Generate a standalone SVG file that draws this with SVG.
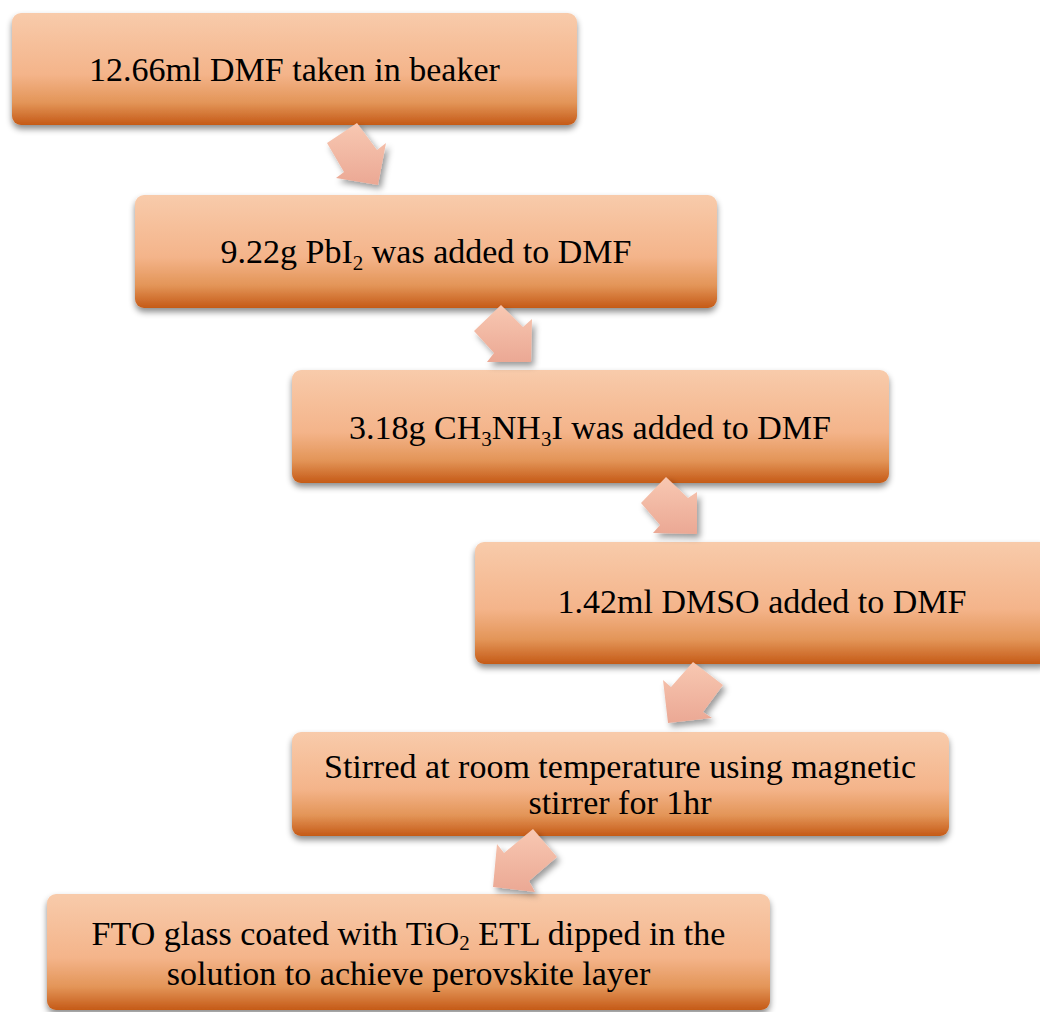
<svg xmlns="http://www.w3.org/2000/svg" width="1040" height="1012" viewBox="0 0 1040 1012">
  <defs>
    <linearGradient id="boxFill" x1="0" y1="0" x2="0" y2="1">
      <stop offset="0" stop-color="#f8cbab"/>
      <stop offset="0.55" stop-color="#f4b48a"/>
      <stop offset="0.8" stop-color="#e39558"/>
      <stop offset="1" stop-color="#c55a17"/>
    </linearGradient>
    <linearGradient id="arrowFill" x1="0" y1="0" x2="0" y2="1">
      <stop offset="0" stop-color="#f8c8b2"/>
      <stop offset="1" stop-color="#eba894"/>
    </linearGradient>
    <filter id="boxShadow" x="-5%" y="-10%" width="110%" height="130%">
      <feDropShadow dx="0" dy="4" stdDeviation="3" flood-color="#000" flood-opacity="0.45"/>
    </filter>
    <filter id="arrowShadow" x="-20%" y="-20%" width="150%" height="150%">
      <feDropShadow dx="3" dy="4" stdDeviation="3" flood-color="#000" flood-opacity="0.4"/>
    </filter>
  </defs>
  <style>
    .box { fill: url(#boxFill); filter: url(#boxShadow); }
    .arrow { fill: url(#arrowFill); filter: url(#arrowShadow); }
    .label { font-family: "Liberation Serif", "Times New Roman", serif; font-size: 34px; fill: #000; text-anchor: middle; }
    .sub { font-size: 21px; }
  </style>
  <rect width="1040" height="1012" fill="#fff"/>

  <!-- process steps -->
  <g id="step1">
    <rect class="box" x="12" y="13" width="565" height="112" rx="9"/>
    <text class="label" x="294.5" y="81">12.66ml DMF taken in beaker</text>
  </g>
  <g id="step2">
    <rect class="box" x="135" y="195" width="582" height="113" rx="9"/>
    <text class="label" x="426" y="263">9.22g PbI<tspan class="sub" dy="7">2</tspan><tspan dy="-7"> was added to DMF</tspan></text>
  </g>
  <g id="step3">
    <rect class="box" x="292" y="370" width="597" height="113" rx="9"/>
    <text class="label" x="590" y="439">3.18g CH<tspan class="sub" dy="7">3</tspan><tspan dy="-7">NH</tspan><tspan class="sub" dy="7">3</tspan><tspan dy="-7">I was added to DMF</tspan></text>
  </g>
  <g id="step4">
    <rect class="box" x="475" y="542" width="574" height="122" rx="9"/>
    <text class="label" x="762" y="613">1.42ml DMSO added to DMF</text>
  </g>
  <g id="step5">
    <rect class="box" x="292" y="732" width="657" height="104" rx="9"/>
    <text class="label" x="620" y="778">Stirred at room temperature using magnetic</text>
    <text class="label" x="620" y="814">stirrer for 1hr</text>
  </g>
  <g id="step6">
    <rect class="box" x="47" y="894" width="723" height="116" rx="9"/>
    <text class="label" x="408.5" y="945">FTO glass coated with TiO<tspan class="sub" dy="5">2</tspan><tspan dy="-5"> ETL dipped in the</tspan></text>
    <text class="label" x="408.5" y="985">solution to achieve perovskite layer</text>
  </g>

  <!-- block arrows between steps -->
  <g id="connectors">
    <polygon class="arrow" points="357,123 377,150 386,143 378,185 336,178 344,172 327,143"/>
    <polygon class="arrow" points="501,305 523,327 532,319 531,362 487,362 494,353 474,331"/>
    <polygon class="arrow" points="666,477 688,498 697,492 697,534 653,533 660,525 641,503"/>
    <polygon class="arrow" points="693,662 723,685 703,712 712,718 668,723 663,680 671,687"/>
    <polygon class="arrow" points="533,829 557,857 529,881 535,892 493,887 497,844 504,853"/>
  </g>
</svg>
